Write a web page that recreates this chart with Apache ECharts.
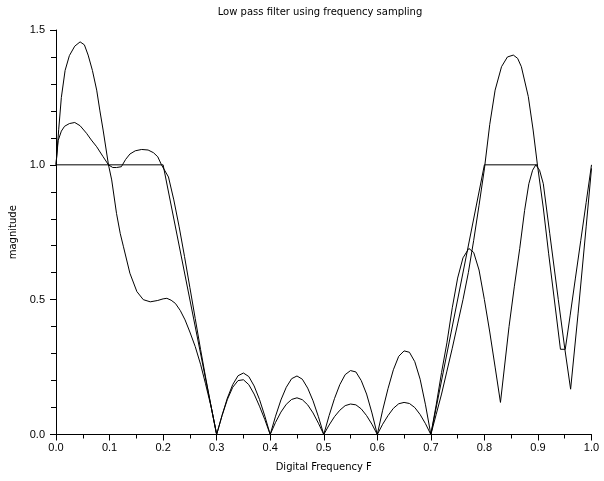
<!DOCTYPE html>
<html>
<head>
<meta charset="utf-8">
<script src="https://cdn.jsdelivr.net/npm/echarts@6/dist/echarts.min.js"></script>
<style>
html,body{margin:0;padding:0;background:#fff;}
#c{width:604px;height:481px;}
</style>
</head>
<body>
<div id="c"></div>
<script>
var titleText = "Low pass filter using frequency sampling";
var xName = "Digital Frequency F";
var yName = "magnitude";

var xTicks = [0, 0.1, 0.2, 0.3, 0.4, 0.5, 0.6, 0.7, 0.8, 0.9, 1.0];
var yTicks = [0, 0.5, 1.0, 1.5];

// Desired (piecewise-linear) response
var freqIdeal = [0, 0.2, 0.3, 0.7, 0.8, 0.9];
var magIdeal  = [1, 1, 0, 0, 1, 1];

// Response A
var freqA = [0, 0.005, 0.01, 0.017, 0.025, 0.035, 0.045, 0.053, 0.06, 0.068, 0.076, 0.082, 0.088, 0.098, 0.104, 0.113, 0.12, 0.126, 0.138, 0.151, 0.163, 0.176, 0.19, 0.2, 0.207, 0.215, 0.223, 0.232, 0.241, 0.25, 0.26, 0.27, 0.279, 0.29, 0.3,
  0.31, 0.32, 0.33, 0.34, 0.35, 0.36, 0.37, 0.38, 0.39, 0.4,
  0.41, 0.42, 0.43, 0.44, 0.45, 0.46, 0.47, 0.48, 0.49, 0.5,
  0.51, 0.52, 0.53, 0.54, 0.55, 0.56, 0.57, 0.58, 0.59, 0.6,
  0.61, 0.62, 0.63, 0.64, 0.65, 0.66, 0.67, 0.68, 0.69, 0.7,
  0.71, 0.72, 0.73, 0.74, 0.75, 0.76, 0.771, 0.78, 0.79, 0.8, 0.81, 0.82, 0.83,
  0.846, 0.856, 0.866, 0.875, 0.883, 0.89, 0.896, 0.903, 0.91, 0.922, 0.938, 0.95, 0.961, 0.975, 0.99, 1.0];
var magA  = [1.0, 1.13, 1.25, 1.35, 1.405, 1.44, 1.456, 1.445, 1.407, 1.35, 1.277, 1.2, 1.129, 1.0, 0.944, 0.82, 0.745, 0.696, 0.598, 0.53, 0.5, 0.492, 0.497, 0.503, 0.505, 0.498, 0.486, 0.46, 0.425, 0.38, 0.326, 0.26, 0.19, 0.1, 0,
  0.07, 0.135, 0.185, 0.218, 0.228, 0.215, 0.18, 0.13, 0.068, 0,
  0.068, 0.128, 0.175, 0.207, 0.217, 0.205, 0.172, 0.125, 0.066, 0,
  0.07, 0.133, 0.185, 0.222, 0.237, 0.232, 0.2, 0.15, 0.08, 0,
  0.09, 0.17, 0.24, 0.29, 0.31, 0.305, 0.27, 0.205, 0.11, 0,
  0.11, 0.23, 0.34, 0.47, 0.58, 0.655, 0.69, 0.675, 0.61, 0.5, 0.38, 0.25, 0.119,
  0.4, 0.55, 0.69, 0.83, 0.93, 0.98, 1.0, 0.98, 0.93, 0.746, 0.5, 0.32, 0.168, 0.45, 0.77, 0.987];

// Response B
var freqB = [0, 0.004, 0.01, 0.016, 0.025, 0.035, 0.045, 0.057, 0.066, 0.076, 0.088, 0.098, 0.106, 0.113, 0.122, 0.13, 0.138, 0.148, 0.16, 0.172, 0.182, 0.19, 0.197, 0.21, 0.22, 0.23, 0.24, 0.25, 0.26, 0.27, 0.28, 0.29, 0.3,
  0.31, 0.32, 0.33, 0.34, 0.35, 0.36, 0.37, 0.38, 0.39, 0.4,
  0.41, 0.42, 0.43, 0.44, 0.45, 0.46, 0.47, 0.48, 0.49, 0.5,
  0.51, 0.52, 0.53, 0.54, 0.55, 0.56, 0.57, 0.58, 0.59, 0.6,
  0.61, 0.62, 0.63, 0.64, 0.65, 0.66, 0.67, 0.68, 0.69, 0.7,
  0.71, 0.72, 0.73, 0.74, 0.75, 0.76, 0.77, 0.78, 0.79, 0.8, 0.81, 0.82, 0.832, 0.843, 0.854, 0.862, 0.869, 0.882, 0.891, 0.899,
  0.91, 0.92, 0.93, 0.942, 0.951, 0.96, 0.97, 0.98, 0.99, 1.0];
var magB  = [1.0, 1.09, 1.125, 1.143, 1.153, 1.157, 1.145, 1.117, 1.092, 1.067, 1.03, 1.0, 0.99, 0.99, 0.993, 1.02, 1.04, 1.052, 1.057, 1.055, 1.045, 1.03, 1.0, 0.955, 0.87, 0.77, 0.66, 0.545, 0.43, 0.315, 0.205, 0.1, 0,
  0.07, 0.13, 0.175, 0.2, 0.203, 0.185, 0.15, 0.105, 0.055, 0,
  0.045, 0.083, 0.112, 0.13, 0.136, 0.129, 0.11, 0.08, 0.042, 0,
  0.035, 0.066, 0.09, 0.107, 0.113, 0.11, 0.095, 0.07, 0.038, 0,
  0.038, 0.07, 0.097, 0.114, 0.119, 0.115, 0.1, 0.074, 0.04, 0,
  0.075, 0.15, 0.235, 0.32, 0.41, 0.5, 0.6, 0.72, 0.85, 0.985, 1.15, 1.277, 1.364, 1.4, 1.407, 1.395, 1.364, 1.253, 1.129, 1.0,
  0.84, 0.67, 0.51, 0.316, 0.316, 0.44, 0.58, 0.72, 0.86, 1.0];

function pairs(xs, ys) { return xs.map(function (x, i) { return [x, ys[i]]; }); }

var chart = echarts.init(document.getElementById('c'), null, {renderer: 'canvas'});
var FONT = 'Liberation Sans';
var NFONT = 'DejaVu Sans';
var lineStyle = {color: '#000', width: 1};
function mk(xs, ys) {
  return {type: 'line', data: pairs(xs, ys), showSymbol: false, symbol: 'none', lineStyle: lineStyle, animation: false, silent: true};
}
chart.setOption({
  animation: false,
  backgroundColor: '#fff',
  grid: {left: 56, top: 30, width: 535.5, height: 404.5, containLabel: false},
  graphic: [{type: 'text', x: 320, y: 12, style: {text: titleText, font: '10px ' + NFONT, fill: '#000', textAlign: 'center', textVerticalAlign: 'middle'}}],
  xAxis: {
    type: 'value', min: 0, max: 1, interval: 0.1,
    name: xName, nameLocation: 'middle', nameGap: 28,
    nameTextStyle: {fontFamily: NFONT, fontSize: 10, color: '#000'},
    axisLine: {show: true, onZero: false, lineStyle: {color: '#000', width: 1}},
    axisTick: {show: true, length: 6, lineStyle: {color: '#000'}},
    minorTick: {show: true, splitNumber: 2, length: 4, lineStyle: {color: '#000'}},
    splitLine: {show: false}, minorSplitLine: {show: false},
    axisLabel: {fontFamily: FONT, fontSize: 11, color: '#000', margin: 8,
      formatter: function (v) { return v.toFixed(1); }}
  },
  yAxis: {
    type: 'value', min: 0, max: 1.5, interval: 0.5,
    name: yName, nameLocation: 'middle', nameGap: 36, nameRotate: 90,
    nameTextStyle: {fontFamily: NFONT, fontSize: 10, color: '#000'},
    axisLine: {show: true, lineStyle: {color: '#000', width: 1}},
    axisTick: {show: true, length: 6, lineStyle: {color: '#000'}},
    minorTick: {show: true, splitNumber: 5, length: 5, lineStyle: {color: '#000'}},
    splitLine: {show: false}, minorSplitLine: {show: false},
    axisLabel: {fontFamily: FONT, fontSize: 11, color: '#000', margin: 11,
      formatter: function (v) { return v.toFixed(1); }}
  },
  series: [mk(freqIdeal, magIdeal), mk(freqA, magA), mk(freqB, magB)]
});
</script>
</body>
</html>
